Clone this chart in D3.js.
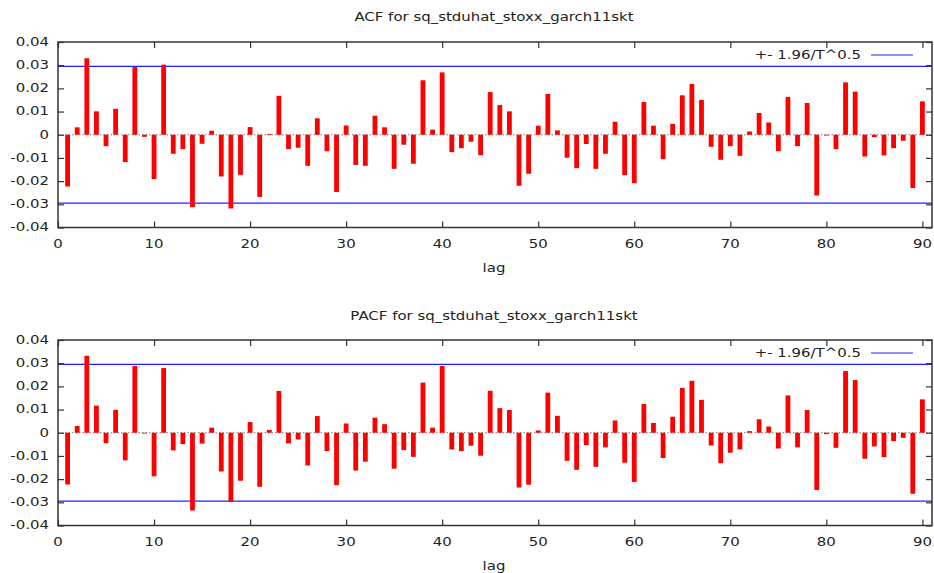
<!DOCTYPE html>
<html><head><meta charset="utf-8">
<script src="https://cdn.jsdelivr.net/npm/d3@7/dist/d3.min.js"></script>
<style>
body{margin:0;background:#fff;}
text{font-family:"DejaVu Sans",Verdana,sans-serif;fill:#222;}
</style></head>
<body>
<svg id="chart" width="934" height="573"></svg>
<script>
const lags = d3.range(1, 91);
const acfValues = [
 -0.0223, 0.0032, 0.0330, 0.0101, -0.0049, 0.0112, -0.0118, 0.0292, -0.0009, -0.0191,
 0.0302, -0.0082, -0.0062, -0.0312, -0.0039, 0.0017, -0.0180, -0.0318, -0.0173, 0.0033,
 -0.0268, 0.0003, 0.0168, -0.0062, -0.0056, -0.0134, 0.0071, -0.0071, -0.0247, 0.0040,
 -0.0130, -0.0134, 0.0082, 0.0032, -0.0147, -0.0043, -0.0125, 0.0235, 0.0022, 0.0269,
 -0.0075, -0.0058, -0.0030, -0.0088, 0.0184, 0.0128, 0.0101, -0.0220, -0.0168, 0.0039,
 0.0176, 0.0019, -0.0099, -0.0144, -0.0040, -0.0147, -0.0082, 0.0056, -0.0174, -0.0209,
 0.0141, 0.0039, -0.0105, 0.0047, 0.0170, 0.0219, 0.0150, -0.0052, -0.0108, -0.0049,
 -0.0091, 0.0014, 0.0094, 0.0053, -0.0071, 0.0163, -0.0049, 0.0137, -0.0262, -0.0003,
 -0.0062, 0.0226, 0.0186, -0.0094, -0.0010, -0.0089, -0.0058, -0.0026, -0.0230, 0.0144
];
const pacfValues = [
 -0.0223, 0.0029, 0.0332, 0.0117, -0.0045, 0.0099, -0.0119, 0.0288, -0.0002, -0.0188,
 0.0279, -0.0076, -0.0049, -0.0335, -0.0047, 0.0022, -0.0167, -0.0298, -0.0207, 0.0046,
 -0.0233, 0.0012, 0.0180, -0.0046, -0.0029, -0.0141, 0.0072, -0.0079, -0.0226, 0.0040,
 -0.0163, -0.0125, 0.0065, 0.0037, -0.0155, -0.0075, -0.0104, 0.0216, 0.0022, 0.0288,
 -0.0072, -0.0079, -0.0056, -0.0099, 0.0181, 0.0106, 0.0098, -0.0236, -0.0224, 0.0010,
 0.0173, 0.0073, -0.0121, -0.0160, -0.0053, -0.0147, -0.0063, 0.0053, -0.0129, -0.0212,
 0.0124, 0.0042, -0.0109, 0.0069, 0.0193, 0.0224, 0.0142, -0.0055, -0.0131, -0.0086,
 -0.0072, 0.0007, 0.0058, 0.0027, -0.0068, 0.0161, -0.0063, 0.0098, -0.0247, -0.0006,
 -0.0065, 0.0266, 0.0227, -0.0112, -0.0059, -0.0105, -0.0036, -0.0022, -0.0263, 0.0144
];
const band = 0.0295;
const xTicks = [0, 10, 20, 30, 40, 50, 60, 70, 80, 90];
const yTicks = [-0.04, -0.03, -0.02, -0.01, 0, 0.01, 0.02, 0.03, 0.04];
const titles = ["ACF for sq_stduhat_stoxx_garch11skt", "PACF for sq_stduhat_stoxx_garch11skt"];
const legendLabel = "+- 1.96/T^0.5";
const xLabel = "lag";

const svg = d3.select("#chart");
const left = 58, right = 932;
const FS = 11.5, SX = 1.3;
const panels = [
  {top: 42, bottom: 227.5, values: acfValues, title: titles[0], titleY: 17, labelY: 268},
  {top: 340, bottom: 525.5, values: pacfValues, title: titles[1], titleY: 316, labelY: 566}
];
const x = d3.scaleLinear().domain([0, 91]).range([left, right]);
const fmt = v => v === 0 ? "0" : v.toFixed(2);

function label(g, tx, ty, str, anchor) {
  return g.append("text")
    .attr("transform", `translate(${tx},${ty}) scale(${SX},1)`)
    .attr("text-anchor", anchor || "middle")
    .attr("dominant-baseline", "central")
    .attr("font-size", FS).text(str);
}

panels.forEach(p => {
  const y = d3.scaleLinear().domain([-0.04, 0.04]).range([p.bottom, p.top]);
  const g = svg.append("g");

  label(g, 494, p.titleY, p.title);
  label(g, 494, p.labelY, xLabel);

  // zero line
  g.append("line").attr("x1", left).attr("x2", right).attr("y1", y(0)).attr("y2", y(0))
    .attr("stroke", "#777").attr("stroke-width", 1).attr("stroke-dasharray", "1.5,2");

  // bands
  [band, -band].forEach(b => {
    g.append("line").attr("x1", left).attr("x2", right).attr("y1", y(b)).attr("y2", y(b))
      .attr("stroke", "#2020ff").attr("stroke-width", 1.2);
  });

  // bars
  g.append("g").selectAll("rect").data(lags).join("rect")
    .attr("x", d => x(d) - 2.4).attr("width", 4.8)
    .attr("y", (d, i) => y(Math.max(0, p.values[i])))
    .attr("height", (d, i) => Math.max(0.8, Math.abs(y(p.values[i]) - y(0))))
    .attr("fill", "#ff0000");

  // axes (ticks inward on all sides)
  const axB = g.append("g").attr("transform", `translate(0,${p.bottom})`)
    .call(d3.axisBottom(x).tickValues(xTicks).tickSize(-6).tickFormat(""));
  const axT = g.append("g").attr("transform", `translate(0,${p.top})`)
    .call(d3.axisTop(x).tickValues(xTicks).tickSize(-6).tickFormat(""));
  const axL = g.append("g").attr("transform", `translate(${left},0)`)
    .call(d3.axisLeft(y).tickValues(yTicks).tickSize(-6).tickFormat(""));
  const axR = g.append("g").attr("transform", `translate(${right},0)`)
    .call(d3.axisRight(y).tickValues(yTicks).tickSize(-6).tickFormat(""));
  [axB, axT, axL, axR].forEach(a => {
    a.selectAll(".domain").remove();
    a.selectAll(".tick line").attr("stroke", "#333").attr("stroke-width", 1.2);
    a.selectAll(".tick text").remove();
  });

  // tick labels (wide font)
  xTicks.forEach(t => label(g, x(t), p.bottom + 17, String(t)));
  yTicks.forEach(t => label(g, left - 9, y(t), fmt(t), "end"));

  // frame
  g.append("rect").attr("x", left).attr("y", p.top).attr("width", right - left)
    .attr("height", p.bottom - p.top).attr("fill", "none").attr("stroke", "#333").attr("stroke-width", 1.5);

  // legend
  const ly = p.top + 13;
  label(g, 861, ly, legendLabel, "end");
  g.append("line").attr("x1", 871).attr("x2", 913).attr("y1", ly).attr("y2", ly)
    .attr("stroke", "#2020ff").attr("stroke-width", 1.2);
});
</script>
</body></html>
